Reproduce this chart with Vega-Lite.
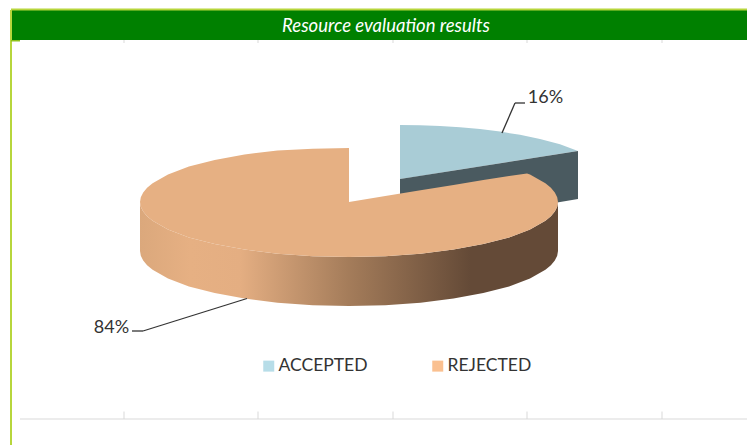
{"$schema":"https://vega.github.io/schema/vega-lite/v6.json","width":747,"height":445,"padding":0,"autosize":{"type":"fit","contains":"padding"},"background":"white","config":{"view":{"stroke":null}},
"datasets":{
"frame":[{"x":11,"x2":11,"y":10,"y2":445},{"x":11,"x2":747,"y":9.5,"y2":9.5}],
"tab":[{"x":11,"x2":20,"y":40,"y2":41.5}],
"ticks":[{"x":124,"x2":124,"y":40,"y2":43},{"x":258,"x2":258,"y":40,"y2":43},{"x":393,"x2":393,"y":40,"y2":43},{"x":527,"x2":527,"y":40,"y2":43},{"x":662,"x2":662,"y":40,"y2":43},{"x":124,"x2":124,"y":411.5,"y2":419},{"x":258,"x2":258,"y":411.5,"y2":419},{"x":393,"x2":393,"y":411.5,"y2":419},{"x":527,"x2":527,"y":411.5,"y2":419},{"x":662,"x2":662,"y":411.5,"y2":419},{"x":20,"x2":747,"y":419,"y2":419}],
"banner":[{"x":11,"x2":747,"y":10,"y2":40,"title":"Resource evaluation results","tx":386,"ty":26}],
"blueTop":[{"x":400,"y":125,"y2":179},{"x":420,"y":125.2,"y2":175.9},{"x":440,"y":126,"y2":172.7},{"x":460,"y":127.3,"y2":169.6},{"x":480,"y":129.1,"y2":166.4},{"x":500,"y":131.6,"y2":163.3},{"x":520,"y":134.8,"y2":160.1},{"x":540,"y":138.9,"y2":157},{"x":560,"y":144.3,"y2":153.8},{"x":578,"y":151,"y2":151}],
"blueSide":[{"x":400,"y":179,"y2":229},{"x":578,"y":151,"y2":199}],
"orangeSide":[{"x":140,"y":202,"y2":251},{"x":140.8,"y":206.8,"y2":255.8},{"x":143.2,"y":211.6,"y2":260.6},{"x":147.1,"y":216.2,"y2":265.2},{"x":152.6,"y":220.8,"y2":269.8},{"x":168,"y":229.5,"y2":278.5},{"x":188.9,"y":237.4,"y2":286.4},{"x":214.7,"y":244.1,"y2":293.1},{"x":244.5,"y":249.6,"y2":298.6},{"x":277.5,"y":253.7,"y2":302.7},{"x":312.7,"y":256.2,"y2":305.2},{"x":349,"y":257,"y2":306},{"x":385.3,"y":256.2,"y2":305.2},{"x":420.5,"y":253.7,"y2":302.7},{"x":453.5,"y":249.6,"y2":298.6},{"x":483.3,"y":244.1,"y2":293.1},{"x":509.1,"y":237.4,"y2":286.4},{"x":530,"y":229.5,"y2":278.5},{"x":545.4,"y":220.8,"y2":269.8},{"x":550.9,"y":216.2,"y2":265.2},{"x":554.8,"y":211.6,"y2":260.6},{"x":557.2,"y":206.8,"y2":255.8},{"x":558,"y":202,"y2":251}],
"orangeTop":[{"x":140,"y":202,"y2":202},{"x":140.8,"y":197.2,"y2":206.8},{"x":143.2,"y":192.4,"y2":211.6},{"x":147.1,"y":187.8,"y2":216.2},{"x":152.6,"y":183.2,"y2":220.8},{"x":168,"y":174.5,"y2":229.5},{"x":188.9,"y":166.6,"y2":237.4},{"x":214.7,"y":159.9,"y2":244.1},{"x":244.5,"y":154.4,"y2":249.6},{"x":277.5,"y":150.6,"y2":253.7},{"x":312.7,"y":148.7,"y2":256.2},{"x":349,"y":148,"y2":257},{"x":349,"y":202,"y2":257},{"x":385.3,"y":196.1,"y2":256.2},{"x":420.5,"y":190.3,"y2":253.7},{"x":453.5,"y":185,"y2":249.6},{"x":483.3,"y":180.1,"y2":244.1},{"x":509.1,"y":175.9,"y2":237.4},{"x":527,"y":173.5,"y2":230.8},{"x":530,"y":174.5,"y2":229.5},{"x":545.4,"y":183.2,"y2":220.8},{"x":550.9,"y":187.8,"y2":216.2},{"x":554.8,"y":192.4,"y2":211.6},{"x":557.2,"y":197.2,"y2":206.8},{"x":558,"y":202,"y2":202}],
"leaders":[{"x":502,"x2":515,"y":133,"y2":103},{"x":515,"x2":525,"y":103,"y2":103},{"x":247,"x2":143,"y":298.5,"y2":331},{"x":143,"x2":132,"y":331,"y2":331}],
"shares":[{"category":"ACCEPTED","share":"16%","x":545.5,"y":98},{"category":"REJECTED","share":"84%","x":111.5,"y":328}]
},
"encoding":{"x":{"field":"x","type":"quantitative","scale":{"domain":[0,747],"nice":false,"zero":false},"axis":null},"y":{"field":"y","type":"quantitative","scale":{"domain":[445,0],"nice":false,"zero":false},"axis":null}},
"layer":[
{"data":{"name":"ticks"},"mark":{"type":"rule","color":"#d9d9d9","strokeWidth":1,"clip":true},"encoding":{"x2":{"field":"x2"},"y2":{"field":"y2"}}},
{"data":{"name":"banner"},"mark":{"type":"rect","color":"#008000"},"encoding":{"x2":{"field":"x2"},"y2":{"field":"y2"}}},
{"data":{"name":"frame"},"mark":{"type":"rule","color":"#b7d63c","strokeWidth":2,"clip":true},"encoding":{"x2":{"field":"x2"},"y2":{"field":"y2"}}},
{"data":{"name":"tab"},"mark":{"type":"rect","color":"#8cc21e"},"encoding":{"x2":{"field":"x2"},"y2":{"field":"y2"}}},
{"data":{"name":"banner"},"mark":{"type":"text","color":"white","font":"Lato","fontStyle":"italic","fontSize":18.5,"align":"center","baseline":"middle"},"encoding":{"x":{"field":"tx","type":"quantitative"},"y":{"field":"ty","type":"quantitative"},"text":{"field":"title"}}},
{"data":{"name":"blueTop"},"mark":{"type":"area","color":"#a9ccd6","opacity":1},"encoding":{"y2":{"field":"y2"}}},
{"data":{"name":"blueSide"},"mark":{"type":"area","color":"#4a5a60","opacity":1},"encoding":{"y2":{"field":"y2"}}},
{"data":{"name":"orangeSide"},"mark":{"type":"area","opacity":1,"color":{"gradient":"linear","x1":0,"y1":0,"x2":1,"y2":0,"stops":[{"offset":0,"color":"#dba87c"},{"offset":0.12,"color":"#e6b083"},{"offset":0.24,"color":"#e4ae82"},{"offset":0.5,"color":"#a47c5a"},{"offset":0.79,"color":"#644a37"},{"offset":1,"color":"#644a37"}]}},"encoding":{"y2":{"field":"y2"}}},
{"data":{"name":"orangeTop"},"mark":{"type":"area","color":"#e6b083","opacity":1},"encoding":{"y2":{"field":"y2"}}},
{"data":{"name":"leaders"},"mark":{"type":"rule","color":"#333333","strokeWidth":1.3},"encoding":{"x2":{"field":"x2"},"y2":{"field":"y2"}}},
{"data":{"name":"shares"},"mark":{"type":"text","color":"#333333","font":"Lato","fontSize":18,"align":"center","baseline":"middle"},"encoding":{"text":{"field":"share"}}},
{"data":{"name":"shares"},"mark":{"type":"square","size":0,"opacity":1},"encoding":{"color":{"field":"category","type":"nominal","scale":{"domain":["ACCEPTED","REJECTED"],"range":["#b7dde8","#fac090"]},"legend":{"title":null,"orient":"none","legendX":260,"legendY":357,"direction":"horizontal","symbolType":"square","symbolSize":121,"symbolOpacity":1,"symbolStrokeWidth":0,"labelFont":"Lato","labelFontSize":17.5,"labelColor":"#333333","columnPadding":61,"labelOffset":1,"columns":2}}}}
]}
